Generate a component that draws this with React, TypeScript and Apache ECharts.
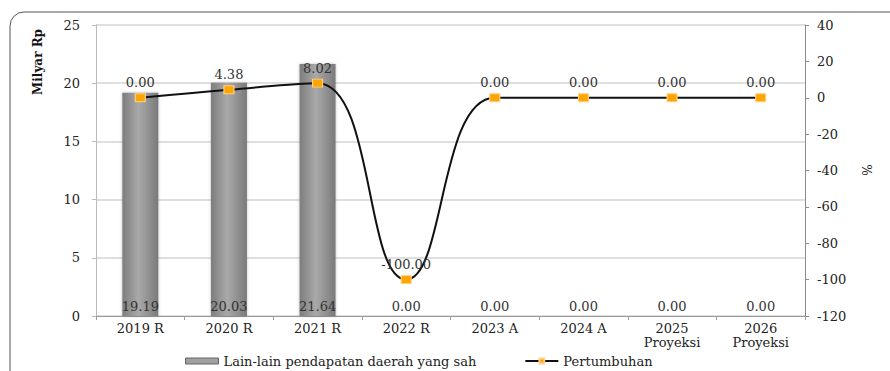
import React, { useEffect, useRef } from "react";
import * as echarts from "echarts";

const categories = ["2019 R", "2020 R", "2021 R", "2022 R", "2023 A", "2024 A", "2025\nProyeksi", "2026\nProyeksi"];
const barValues = [19.19, 20.03, 21.64, 0, 0, 0, 0, 0];
const growthValues = [0, 4.38, 8.02, -100, 0, 0, 0, 0];
const barName = "Lain-lain pendapatan daerah yang sah";
const lineName = "Pertumbuhan";

const FONT = "DejaVu Serif";

export default function App() {
  const ref = useRef<HTMLDivElement>(null);
  useEffect(() => {
    if (!ref.current) return;
    const chart = echarts.init(ref.current, null, { renderer: "svg" });
    const barGrad = new echarts.graphic.LinearGradient(0, 0, 1, 0, [
      { offset: 0, color: "#7d7d7d" },
      { offset: 0.45, color: "#a9a9a9" },
      { offset: 1, color: "#7a7a7a" },
    ]);
    chart.setOption({
      animation: false,
      backgroundColor: "#ffffff",
      textStyle: { fontFamily: FONT },
      grid: { left: 96, right: 85, top: 25, bottom: 55 },
      legend: {
        left: 185,
        top: 354,
        padding: 0,
        itemWidth: 33,
        itemHeight: 6,
        itemGap: 48,
        textStyle: { fontFamily: FONT, fontSize: 13, lineHeight: 14, color: "#222" },
        data: [
          { name: barName, icon: "rect", itemStyle: { color: "#a0a0a0", borderColor: "#666", borderWidth: 1 } },
          { name: lineName },
        ],
      },
      graphic: [
        {
          type: "rect",
          shape: { x: 10, y: 12, width: 920, height: 400, r: 14 },
          style: { fill: "none", stroke: "#555", lineWidth: 1 },
          silent: true,
          z: -1,
        },
        {
          type: "text",
          x: 38,
          y: 62,
          rotation: Math.PI / 2,
          style: { text: "Milyar Rp", font: "bold 12px 'DejaVu Serif'", fill: "#111", textAlign: "center", textVerticalAlign: "middle" },
        },
        {
          type: "text",
          x: 868,
          y: 170,
          rotation: Math.PI / 2,
          style: { text: "%", font: "12px 'DejaVu Serif'", fill: "#222", textAlign: "center", textVerticalAlign: "middle" },
        },
      ],
      xAxis: {
        type: "category",
        data: categories,
        boundaryGap: true,
        axisLine: { show: true, lineStyle: { color: "#9a9a9a" } },
        axisTick: { show: true, alignWithLabel: false, lineStyle: { color: "#9a9a9a" }, length: 4 },
        axisLabel: { fontFamily: FONT, fontSize: 13, color: "#222", margin: 5, lineHeight: 14, interval: 0 },
      },
      yAxis: [
        {
          type: "value",
          min: 0,
          max: 25,
          interval: 5,
          axisLine: { show: true, lineStyle: { color: "#bbbbbb" } },
          axisTick: { show: true, length: 4, lineStyle: { color: "#bbbbbb" } },
          axisLabel: { fontFamily: FONT, fontSize: 13, color: "#222", margin: 16 },
          splitLine: { show: true, lineStyle: { color: "#d4d4d4", width: 1.5 } },
        },
        {
          type: "value",
          min: -120,
          max: 40,
          interval: 20,
          position: "right",
          axisLine: { show: true, lineStyle: { color: "#8a8a8a" } },
          axisTick: { show: true, length: 4, lineStyle: { color: "#8a8a8a" } },
          axisLabel: { fontFamily: FONT, fontSize: 13, color: "#222", margin: 12 },
          splitLine: { show: false },
        },
      ],
      series: [
        {
          name: barName,
          type: "bar",
          data: barValues,
          barWidth: 36,
          itemStyle: { color: barGrad, shadowColor: "rgba(0,0,0,0.25)", shadowBlur: 3 },
          label: {
            show: true,
            position: "insideBottom",
            distance: 3,
            formatter: (p: any) => Number(p.value).toFixed(2),
            fontFamily: FONT,
            fontSize: 13,
            color: "#333",
          },
        },
        {
          name: lineName,
          type: "line",
          yAxisIndex: 1,
          data: growthValues,
          smooth: 0.45,
          symbol: "rect",
          symbolSize: [10, 8],
          lineStyle: { color: "#111", width: 2 },
          itemStyle: { color: "#ffa500", borderColor: "#ffd08a", borderWidth: 1 },
          label: {
            show: true,
            position: "top",
            distance: 4,
            formatter: (p: any) => Number(p.value).toFixed(2),
            fontFamily: FONT,
            fontSize: 13,
            color: "#333",
          },
          z: 5,
        },
      ],
    });
    return () => chart.dispose();
  }, []);
  return <div ref={ref} style={{ width: 890, height: 371, position: "absolute", left: 0, top: 0 }} />;
}
